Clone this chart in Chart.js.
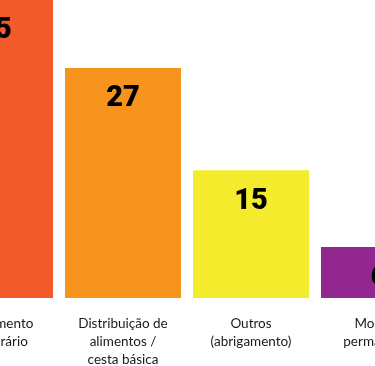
<!DOCTYPE html>
<html>
<head>
<meta charset="utf-8">
<script src="https://cdn.jsdelivr.net/npm/chart.js@4/dist/chart.umd.min.js"></script>
<style>
  html, body { margin: 0; padding: 0; background: #fff; overflow: hidden; }
  #wrap { position: relative; width: 375px; height: 366px; overflow: hidden; }
  #chart { position: absolute; left: -69px; top: 0; }
</style>
</head>
<body>
<div id="wrap"><canvas id="chart" width="512" height="366"></canvas></div>
<script>
// categories (multi-line tick labels) and counts
const categories = [
  ['Abrigamento', 'temporário'],
  ['Distribuição de', 'alimentos /', 'cesta básica'],
  ['Outros', '(abrigamento)'],
  ['Moradia', 'permanente']
]
const counts = [35, 27, 15, 6]
const barColors = ['#F15A2B', '#F7941E', '#F5EB2D', '#92278F']

// draws the number inside each bar, near the top
const valueLabels = {
  id: 'valueLabels',
  afterDatasetsDraw(chart) {
    const ctx = chart.ctx
    const meta = chart.getDatasetMeta(0)
    ctx.save()
    ctx.font = '900 29px Roboto, "DejaVu Sans", sans-serif'
    ctx.fillStyle = '#000'
    ctx.textAlign = 'center'
    ctx.textBaseline = 'middle'
    meta.data.forEach((bar, i) => {
      ctx.fillText(String(counts[i]), bar.x, bar.y + 31)
    })
    ctx.restore()
  }
}

new Chart(document.getElementById('chart'), {
  type: 'bar',
  data: {
    labels: categories,
    datasets: [{
      data: counts,
      backgroundColor: barColors,
      borderWidth: 0,
      barPercentage: 1,
      categoryPercentage: 116 / 128
    }]
  },
  options: {
    responsive: false,
    animation: false,
    layout: { padding: 0 },
    plugins: { legend: { display: false }, tooltip: { enabled: false } },
    scales: {
      x: {
        grid: { display: false, drawTicks: false },
        border: { display: false },
        afterFit(scale) { scale.height = 68 },
        ticks: {
          padding: 17,
          maxRotation: 0,
          autoSkip: false,
          color: '#1a1a1a',
          font: { family: 'Lato, "Open Sans", sans-serif', size: 13.5, lineHeight: 18 / 13.5 }
        }
      },
      y: {
        display: false,
        min: 0,
        max: 35
      }
    }
  },
  plugins: [valueLabels]
})
</script>
</body>
</html>
